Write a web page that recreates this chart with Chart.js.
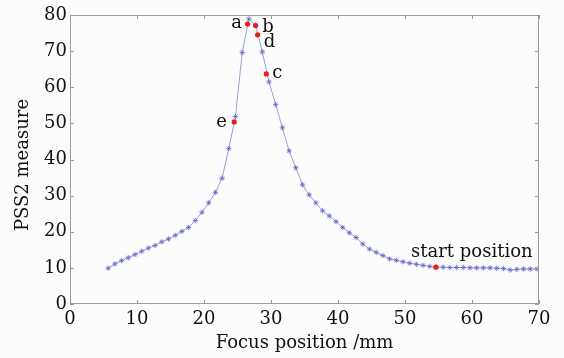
<!DOCTYPE html>
<html lang="en">
  <head>
    <meta charset="UTF-8" />
    <script src="https://cdn.jsdelivr.net/npm/chart.js"></script>
    <title>PSS2 measure</title>
    <style>
      html, body { margin: 0; padding: 0; background: #fcfcfc; }
      #wrap { width: 564px; height: 358px; position: relative; }
    </style>
  </head>
  <body>
    <div id="wrap"><canvas id="myChart"></canvas></div>
    <script>
      // focus position (mm) and PSS2 measure
      const focusPos = [5.7, 6.7, 7.7, 8.7, 9.7, 10.7, 11.7, 12.7, 13.7, 14.7, 15.7, 16.7, 17.7, 18.7, 19.7, 20.7,
        21.7, 22.7, 23.7, 24.7, 25.7, 26.7, 27.7, 28.7, 29.7, 30.7, 31.7, 32.7, 33.7, 34.7, 35.7, 36.7, 37.7,
        38.7, 39.7, 40.7, 41.7, 42.7, 43.7, 44.7, 45.7, 46.7, 47.7, 48.7, 49.7, 50.7, 51.7, 52.7, 53.7, 54.7,
        55.7, 56.7, 57.7, 58.7, 59.7, 60.7, 61.7, 62.7, 63.7, 64.7, 65.7, 66.7, 67.7, 68.7, 69.7];
      const pss2 = [9.9, 11.1, 12.0, 12.8, 13.7, 14.6, 15.5, 16.2, 17.2, 18.0, 19.0, 20.1, 21.2, 23.1, 25.4, 28.0,
        30.9, 34.8, 43.0, 51.9, 69.6, 78.9, 77.2, 69.8, 61.5, 55.2, 48.8, 42.4, 37.7, 33.0, 30.2, 28.0, 25.8,
        24.4, 22.8, 21.2, 19.7, 18.4, 16.6, 15.2, 14.3, 13.4, 12.5, 12.1, 11.7, 11.3, 11.0, 10.7, 10.4, 10.2,
        10.2, 10.1, 10.1, 10.1, 10.0, 10.0, 10.0, 10.0, 9.9, 9.8, 9.4, 9.6, 9.7, 9.7, 9.7];

      // marked points
      const markNames = ['a', 'b', 'd', 'c', 'e', 'start position'];
      const markX = [26.5, 27.7, 28.0, 29.3, 24.5, 54.6];
      const markY = [77.5, 77.1, 74.5, 63.7, 50.4, 10.2];
      // label offsets from the point, in px (dx to centre, dy to baseline)
      const markDx = [-11, 12.5, 12, 11, -12.5, 36];
      const markDy = [4, 7, 12.5, 4, 5, -10];

      const xTicks = [0, 10, 20, 30, 40, 50, 60, 70];
      const yTicks = [0, 10, 20, 30, 40, 50, 60, 70, 80];

      const serif = "'DejaVu Serif', serif";
      const axisColor = '#9a9a9a';
      const textColor = '#111';

      // box frame, inward tick marks (matlab style), y title and point labels
      const frameTicks = {
        id: 'frameTicks',
        afterDraw(chart) {
          const { ctx, chartArea: a, scales } = chart;
          ctx.save();
          ctx.strokeStyle = axisColor;
          ctx.lineWidth = 1;
          ctx.strokeRect(a.left + 0.5, a.top + 0.5, a.right - a.left - 1, a.bottom - a.top - 1);
          const len = 4;
          ctx.beginPath();
          xTicks.forEach(v => {
            const px = Math.round(scales.x.getPixelForValue(v)) + 0.5;
            ctx.moveTo(px, a.bottom); ctx.lineTo(px, a.bottom - len);
            ctx.moveTo(px, a.top); ctx.lineTo(px, a.top + len);
          });
          yTicks.forEach(v => {
            const py = Math.round(scales.y.getPixelForValue(v)) + 0.5;
            ctx.moveTo(a.left, py); ctx.lineTo(a.left + len, py);
            ctx.moveTo(a.right, py); ctx.lineTo(a.right - len, py);
          });
          ctx.stroke();

          ctx.fillStyle = textColor;
          ctx.font = '18px ' + serif;

          // y axis title
          ctx.save();
          ctx.translate(23, 165);
          ctx.rotate(-Math.PI / 2);
          ctx.textAlign = 'center';
          ctx.textBaseline = 'middle';
          ctx.fillText('PSS2 measure', 0, 0);
          ctx.restore();

          // point labels
          ctx.textAlign = 'center';
          ctx.textBaseline = 'alphabetic';
          markNames.forEach((n, i) => {
            const px = scales.x.getPixelForValue(markX[i]);
            const py = scales.y.getPixelForValue(markY[i]);
            ctx.fillText(n, px + markDx[i], py + markDy[i]);
          });
          ctx.restore();
        }
      };

      const ctx = document.getElementById('myChart').getContext('2d');
      new Chart(ctx, {
        type: 'scatter',
        data: {
          datasets: [
            {
              label: 'marks',
              data: markX.map((x, i) => ({ x: x, y: markY[i] })),
              pointStyle: 'circle',
              pointRadius: 2.6,
              backgroundColor: '#e8201c',
              borderColor: '#e8201c',
              borderWidth: 0,
              order: 0
            },
            {
              label: 'PSS2',
              data: focusPos.map((x, i) => ({ x: x, y: pss2[i] })),
              showLine: true,
              borderColor: 'rgba(125, 125, 210, 0.75)',
              borderWidth: 1,
              pointStyle: 'star',
              pointRadius: 2.7,
              pointBorderColor: 'rgba(95, 95, 200, 0.75)',
              pointBorderWidth: 1,
              backgroundColor: 'transparent',
              order: 1
            }
          ]
        },
        options: {
          responsive: true,
          maintainAspectRatio: false,
          animation: false,
          layout: { padding: { top: 15, right: 25, left: 0, bottom: 0 } },
          plugins: { legend: { display: false }, tooltip: { enabled: false } },
          scales: {
            x: {
              type: 'linear',
              min: 0, max: 70,
              afterFit: s => { s.height = 54; },
              afterBuildTicks: s => { s.ticks = xTicks.map(v => ({ value: v })); },
              grid: { display: false, drawTicks: false },
              border: { display: false },
              ticks: { color: textColor, padding: 5, font: { family: serif, size: 18 } },
              title: {
                display: true, text: 'Focus position /mm', color: textColor,
                font: { family: serif, size: 18 }, padding: { top: 0, bottom: 4 }
              }
            },
            y: {
              type: 'linear',
              min: 0, max: 80,
              afterFit: s => { s.width = 70; },
              afterBuildTicks: s => { s.ticks = yTicks.map(v => ({ value: v })); },
              grid: { display: false, drawTicks: false },
              border: { display: false },
              ticks: { color: textColor, padding: 3, font: { family: serif, size: 18 } }
            }
          }
        },
        plugins: [frameTicks]
      });
    </script>
  </body>
</html>
